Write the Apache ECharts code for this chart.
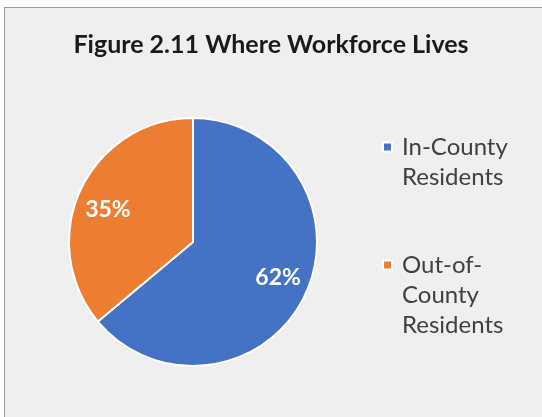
<!DOCTYPE html>
<html><head><meta charset="utf-8">
<script src="https://cdn.jsdelivr.net/npm/echarts@6/dist/echarts.min.js"></script>
<style>
html,body{margin:0;padding:0;background:#fff;width:542px;height:417px;overflow:hidden;}
#frame{position:absolute;left:4px;top:7px;width:600px;height:500px;border:1.5px solid #9c9c9c;background:#efefef;}
#chart{position:absolute;left:0;top:0;width:542px;height:417px;}
</style></head>
<body>
<div id="frame"></div>
<div id="chart"></div>
<script>
const titleText = 'Figure 2.11 Where Workforce Lives';
const categories = ['In-County Residents', 'Out-of-County Residents'];
const legendLabels = ['\nIn-County\nResidents', '\n\nOut-of-\nCounty\nResidents'];
const values = [62, 35];
const colors = ['#4472C4', '#ED7D31'];
const labelOffsets = [[-1, -5], [1, 8]];

const data = categories.map((c, i) => ({ name: c, value: values[i], itemStyle: { color: colors[i] } }));
const fontFam = 'Lato, "Open Sans", sans-serif';

const chart = echarts.init(document.getElementById('chart'), null, { renderer: 'canvas' });
const legendBase = {
  orient: 'vertical', left: 382, padding: 0, itemWidth: 9, itemHeight: 9, icon: 'rect',
  selectedMode: false,
  formatter: n => legendLabels[categories.indexOf(n)],
};
chart.setOption({
  backgroundColor: 'transparent',
  animation: false,
  title: {
    text: titleText, left: 'center', top: 27,
    textStyle: { fontFamily: fontFam, fontSize: 25, fontWeight: 'bold', color: '#1a1a1a' }
  },
  legend: [
    Object.assign({}, legendBase, { top: 102, data: [categories[0]],
      textStyle: { fontFamily: fontFam, fontSize: 24, color: '#404040', lineHeight: 30, padding: [0, 0, 0, 5] } }),
    Object.assign({}, legendBase, { top: 190, data: [categories[1]],
      textStyle: { fontFamily: fontFam, fontSize: 24, color: '#404040', lineHeight: 30, padding: [0, 0, 0, 5] } })
  ],
  series: [
    {
      type: 'pie', center: [193, 242], radius: [0, 124], startAngle: 90, clockwise: true,
      data: data,
      itemStyle: { borderColor: '#ffffff', borderWidth: 2 },
      label: { show: false }, labelLine: { show: false }, emphasis: { disabled: true }
    },
    {
      type: 'pie', center: [193, 242], radius: [0, 184], startAngle: 90, clockwise: true,
      silent: true, legendHoverLink: false,
      data: categories.map((c, i) => ({ name: c, value: values[i], label: { offset: labelOffsets[i] } })),
      itemStyle: { color: 'rgba(0,0,0,0)', borderWidth: 0 },
      label: { show: true, position: 'inside', formatter: p => p.value + '%',
        fontFamily: fontFam, fontSize: 23, fontWeight: 'bold', color: '#ffffff' },
      labelLine: { show: false }, emphasis: { disabled: true }
    }
  ]
});
</script>
</body></html>
